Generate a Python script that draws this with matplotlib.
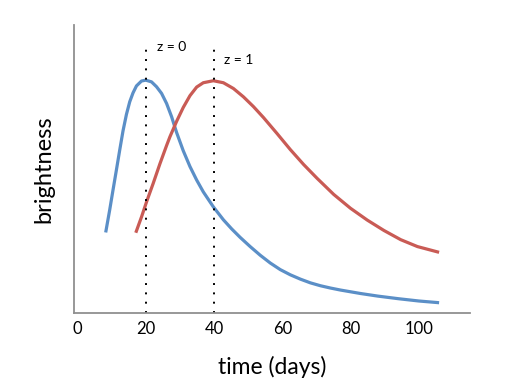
import matplotlib
matplotlib.use('Agg')
from matplotlib import pyplot as plt

plt.rcParams['font.family'] = ['Lato', 'DejaVu Sans']

# blue curve (z = 0)
blue_t = [8.24, 9.41, 10.38, 11.38, 12.35, 13.32, 14.32, 15.29, 16.26, 17.26,
          18.74, 20.0, 21.68, 23.15, 24.62, 26.09, 27.56, 29.03, 30.97, 32.94,
          34.91, 36.85, 39.79, 42.74, 45.2, 47.65, 50.59, 53.53, 56.47, 59.41,
          62.35, 65.29, 68.24, 71.18, 74.12, 77.06, 80.0, 82.94, 88.0, 94.0,
          100.0, 105.97]
blue_b = [2.80, 3.58, 4.27, 4.97, 5.66, 6.33, 6.90, 7.34, 7.65, 7.89,
          8.06, 8.09, 8.03, 7.86, 7.63, 7.28, 6.82, 6.27, 5.64, 5.09,
          4.62, 4.21, 3.69, 3.24, 2.92, 2.63, 2.31, 2.01, 1.74, 1.51,
          1.33, 1.18, 1.05, 0.95, 0.87, 0.80, 0.74, 0.68, 0.59, 0.50,
          0.42, 0.36]

# red curve (z = 1)
red_t = [17.06, 18.74, 20.21, 22.15, 24.12, 26.09, 27.06, 29.03, 30.97, 32.94,
         34.91, 36.85, 39.79, 42.74, 45.68, 48.62, 51.56, 54.5, 58.44, 62.35,
         66.26, 70.21, 75.09, 80.0, 84.91, 89.79, 94.71, 99.62, 105.97]
red_b = [2.79, 3.34, 3.86, 4.50, 5.18, 5.82, 6.12, 6.66, 7.14, 7.55,
         7.85, 8.00, 8.07, 8.00, 7.80, 7.51, 7.17, 6.79, 6.24, 5.68,
         5.16, 4.68, 4.12, 3.64, 3.23, 2.87, 2.55, 2.31, 2.11]

peaks = [20, 40]
peak_labels = ['z = 0', 'z = 1']
xticks = [0, 20, 40, 60, 80, 100]

fig = plt.figure(figsize=(5.08, 3.87), dpi=100)
ax = fig.add_axes([0.146, 0.191, 0.779, 0.744])

ax.plot(blue_t, blue_b, color='#5b8fc7', lw=2.3, solid_capstyle='butt',
        solid_joinstyle='round')
ax.plot(red_t, red_b, color='#c95b55', lw=2.3, solid_capstyle='butt',
        solid_joinstyle='round')

ax.vlines(peaks, 0, 9.3, colors='black', linestyles=(0, (1, 3.8)), lw=1.4)
ax.text(23.2, 9.24, peak_labels[0], fontsize=10, va='center', ha='left')
ax.text(43.0, 8.8, peak_labels[1], fontsize=10, va='center', ha='left')

ax.set_xlim(-1, 115)
ax.set_ylim(0, 10)
ax.set_xticks(xticks)
ax.set_yticks([])
ax.tick_params(axis='x', length=0, pad=6, labelsize=12)
for s in ['top', 'right']:
    ax.spines[s].set_visible(False)
for s in ['left', 'bottom']:
    ax.spines[s].set_color('#909090')
    ax.spines[s].set_linewidth(1.3)

ax.set_xlabel('time (days)', fontsize=16.5, labelpad=13)
ax.set_ylabel('brightness', fontsize=17, labelpad=14)

plt.savefig('out.png', dpi=100)
